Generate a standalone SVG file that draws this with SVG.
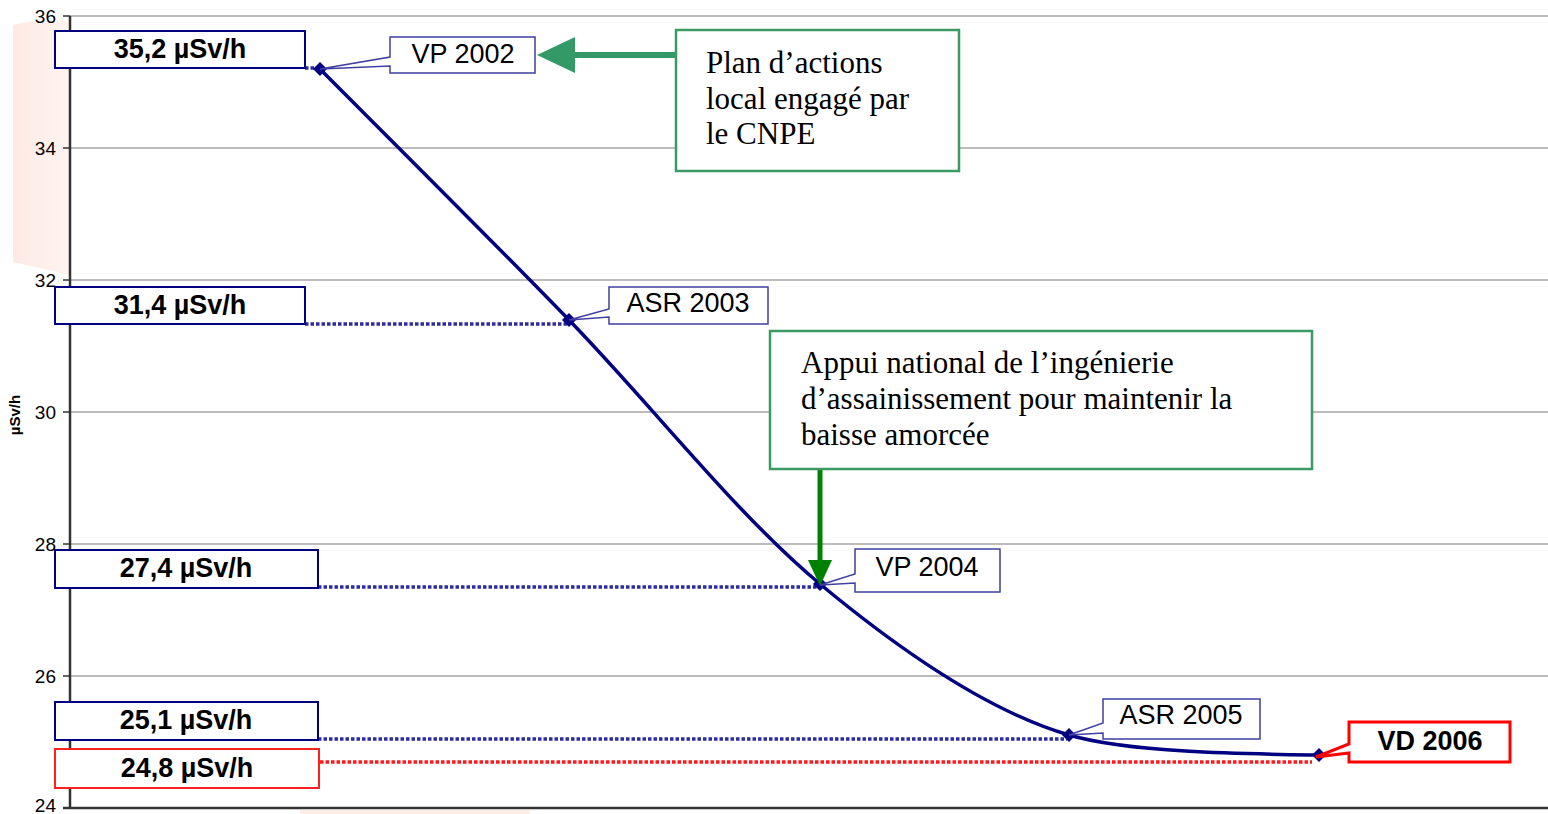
<svg xmlns="http://www.w3.org/2000/svg" width="1548" height="814" viewBox="0 0 1548 814">
<defs>
<linearGradient id="wm" x1="0" y1="0" x2="1" y2="0">
<stop offset="0" stop-color="#fde9e4"/>
<stop offset="1" stop-color="#fff4f0"/>
</linearGradient>
<marker id="dia" viewBox="-7 -7 14 14" markerWidth="14" markerHeight="14" markerUnits="userSpaceOnUse" refX="0" refY="0">
<path d="M0,-7 L7,0 L0,7 L-7,0 Z" fill="#000080"/>
</marker>
</defs>
<style>
.tick{font-family:"Liberation Sans",Arial,sans-serif;font-size:19px;fill:#000;text-anchor:end}
.grid{stroke:#a6a6a6;stroke-width:1.5}
.axis{stroke:#333;stroke-width:2.5}
.val{fill:#fff;stroke:#000080;stroke-width:2}
.valr{fill:#fff;stroke:#ff2020;stroke-width:2}
.vt{font-family:"Liberation Sans",Arial,sans-serif;font-size:27px;font-weight:bold;fill:#000;text-anchor:middle}
.co{fill:#fff;stroke:#3f3fa0;stroke-width:1.5}
.ct{font-family:"Liberation Sans",Arial,sans-serif;font-size:27px;fill:#000;text-anchor:middle}
.gb{fill:#fff;stroke:#3a9a64;stroke-width:2.5}
.tt{font-family:"Liberation Serif","Times New Roman",serif;font-size:31px;fill:#000}
.dot{fill:none;stroke:#2c2ca0;stroke-width:3.5;stroke-dasharray:3.5 2}
.dotr{fill:none;stroke:#ff1a1a;stroke-width:3.5;stroke-dasharray:3.5 2}
</style>
<rect width="1548" height="814" fill="#fff"/>
<path d="M13,25 Q40,18 70,22 L70,275 Q40,268 13,262 Z" fill="url(#wm)"/>
<rect x="300" y="810" width="230" height="4" fill="#fdebe6"/>
<text transform="translate(20,415) rotate(-90)" font-family="Liberation Sans,Arial,sans-serif" font-size="15" font-weight="bold" text-anchor="middle" fill="#000">µSv/h</text>
<g id="grid">
<line class="grid" x1="70" y1="16" x2="1548" y2="16" stroke="#777"/>
<line class="grid" x1="70" y1="148" x2="1548" y2="148"/>
<line class="grid" x1="70" y1="280" x2="1548" y2="280"/>
<line class="grid" x1="70" y1="412" x2="1548" y2="412"/>
<line class="grid" x1="70" y1="544" x2="1548" y2="544"/>
<line class="grid" x1="70" y1="676" x2="1548" y2="676"/>
<g stroke="#333" stroke-width="1.5">
<line x1="63" y1="16" x2="70" y2="16"/><line x1="63" y1="148" x2="70" y2="148"/><line x1="63" y1="280" x2="70" y2="280"/><line x1="63" y1="412" x2="70" y2="412"/><line x1="63" y1="544" x2="70" y2="544"/><line x1="63" y1="676" x2="70" y2="676"/><line x1="63" y1="808" x2="70" y2="808"/>
</g>
<line class="axis" x1="70" y1="16" x2="70" y2="808"/>
<line class="axis" x1="63" y1="808" x2="1548" y2="808"/>
<text class="tick" x="56" y="23">36</text>
<text class="tick" x="56" y="155">34</text>
<text class="tick" x="56" y="287">32</text>
<text class="tick" x="56" y="419">30</text>
<text class="tick" x="56" y="551">28</text>
<text class="tick" x="56" y="683">26</text>
<text class="tick" x="56" y="812">24</text>
</g>
<g id="connectors">
<path class="dot" d="M305,68 H320"/>
<path class="dot" d="M305,324 H567"/>
<path class="dot" d="M318,587 H818"/>
<path class="dot" d="M318,739 H1067"/>
<path class="dotr" d="M320,762 H1312"/>
<path d="M320,69 C361.5,110.8 485.7,234.2 569,320 C652.3,405.8 736.7,514.8 820,584 C903.3,653.2 990,712 1069,735 C1130,753 1250,754 1319,755" fill="none" stroke="#000080" stroke-width="3.5" marker-start="url(#dia)" marker-mid="url(#dia)" marker-end="url(#dia)"/>
<line x1="574" y1="55" x2="676" y2="55" stroke="#339966" stroke-width="6"/>
<polygon points="537,55 575,37 575,73" fill="#339966"/>
<line x1="820" y1="469" x2="820" y2="562" stroke="#008000" stroke-width="5"/>
<polygon points="820,586 808,560 832,560" fill="#008000"/>
</g>
<g id="v352"><rect class="val" x="55" y="31" width="250" height="37"/><text class="vt" x="180" y="58">35,2 µSv/h</text></g>
<g id="v314"><rect class="val" x="55" y="287" width="250" height="37"/><text class="vt" x="180" y="314">31,4 µSv/h</text></g>
<g id="v274"><rect class="val" x="55" y="550" width="263" height="38"/><text class="vt" x="186" y="577">27,4 µSv/h</text></g>
<g id="v251"><rect class="val" x="55" y="702" width="263" height="38"/><text class="vt" x="186" y="729">25,1 µSv/h</text></g>
<g id="v248"><rect class="valr" x="55" y="749" width="264" height="39"/><text class="vt" x="187" y="777">24,8 µSv/h</text></g>
<g id="vp2002"><path class="co" d="M390,37 H535 V73 H390 V66 L320,69 L390,57 Z"/><text class="ct" x="463" y="63">VP 2002</text></g>
<g id="asr2003"><path class="co" d="M609,287 H768 V324 H609 V317 L569,320 L609,309 Z"/><text class="ct" x="688" y="312">ASR 2003</text></g>
<g id="vp2004"><path class="co" d="M855,549 H1000 V592 H855 V583 L820,585 L855,574 Z"/><text class="ct" x="927" y="576">VP 2004</text></g>
<g id="asr2005"><path class="co" d="M1103,699 H1260 V739 H1103 V733 L1069,735 L1103,723 Z"/><text class="ct" x="1181" y="724">ASR 2005</text></g>
<g id="vd2006"><path d="M1349,722 H1510 V762 H1349 V753 L1316,757 L1349,744 Z" fill="#fff" stroke="#ff0000" stroke-width="3"/><text class="vt" x="1430" y="750">VD 2006</text></g>
<g id="plan"><rect class="gb" x="676" y="30" width="283" height="141"/>
<text class="tt" x="706" y="73">Plan d’actions</text>
<text class="tt" x="706" y="109">local engagé par</text>
<text class="tt" x="706" y="144">le CNPE</text></g>
<g id="appui"><rect class="gb" x="770" y="331" width="542" height="138"/>
<text class="tt" x="801" y="373">Appui national de l’ingénierie</text>
<text class="tt" x="801" y="409">d’assainissement pour maintenir la</text>
<text class="tt" x="801" y="445">baisse amorcée</text></g>
</svg>
